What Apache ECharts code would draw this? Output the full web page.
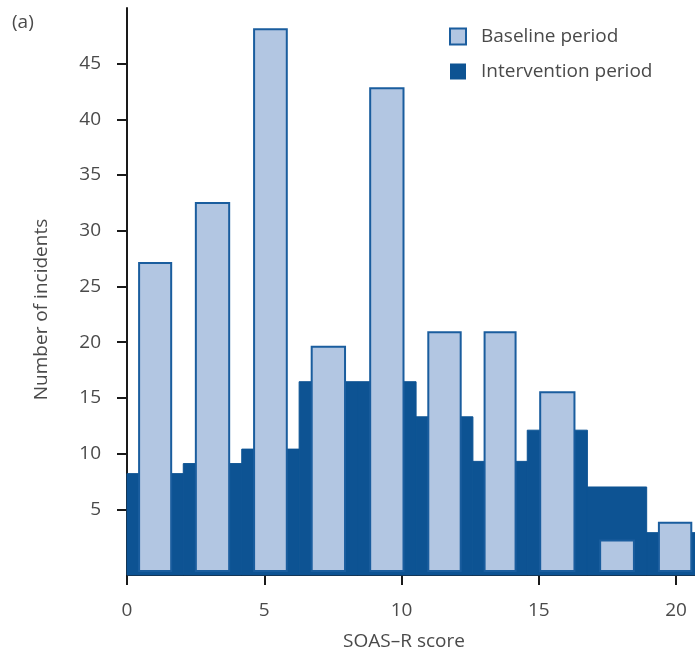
<!DOCTYPE html>
<html>
<head>
<meta charset="utf-8">
<script src="https://cdn.jsdelivr.net/npm/echarts@6/dist/echarts.min.js"></script>
<style>
html,body{margin:0;padding:0;background:#fff;}
#chart{width:695px;height:653px;}
</style>
</head>
<body>
<div id="chart"></div>
<script>
// SOAS-R score bins (edges in score units, as drawn)
const binStart = [0, 2.05, 4.18, 6.27, 8.4, 10.53, 12.6, 14.58, 16.77, 18.93];
const binEnd   = [2.05, 4.18, 6.27, 8.4, 10.53, 12.6, 14.58, 16.77, 18.93, 21.0];
const baselineValues     = [27.1, 32.5, 48.1, 19.6, 42.8, 20.9, 20.9, 15.5, 2.2, 3.8];
const interventionValues = [8.2, 9.1, 10.4, 16.45, 16.45, 13.3, 9.3, 12.1, 7.0, 2.9];
const yTickValues = [5, 10, 15, 20, 25, 30, 35, 40, 45];
const xTickValues = [0, 5, 10, 15, 20];
const seriesNames = ['Baseline period', 'Intervention period'];

const DARK = '#0d5393';
const LIGHT = '#b2c6e2';
const EDGE = '#1a5d9e';
const TEXT = '#4a4a4a';
const FONT = '"Open Sans", sans-serif';
const Y_MIN = -0.9, Y_MAX = 50, X_MIN = 0, X_MAX = 20.69;

const chart = echarts.init(document.getElementById('chart'));

function clipRect(r, params) {
  const cs = params.coordSys;
  return echarts.graphic.clipRectByRect(r, {x: cs.x, y: cs.y, width: cs.width, height: cs.height});
}

const intervData = binStart.map((s, i) => [s, binEnd[i], interventionValues[i]]);
const baseData = binStart.map((s, i) => [s, binEnd[i], baselineValues[i]]);

chart.setOption({
  animation: false,
  textStyle: {fontFamily: FONT},
  grid: {left: 127, right: 0, top: 8, bottom: 78, containLabel: false, outerBoundsMode: 'none'},
  legend: {
    orient: 'vertical',
    left: 449,
    top: 27,
    padding: 0,
    itemWidth: 16,
    itemHeight: 16,
    itemGap: 16,
    textStyle: {fontSize: 19, color: TEXT, fontFamily: FONT, padding: [0, 0, 0, 10], lineHeight: 16},
    data: [
      {name: seriesNames[0], icon: 'rect', itemStyle: {color: LIGHT, borderColor: EDGE, borderWidth: 2}},
      {name: seriesNames[1], icon: 'rect', itemStyle: {color: DARK, borderWidth: 0}}
    ]
  },
  xAxis: {
    type: 'value',
    min: X_MIN,
    max: X_MAX,
    name: 'SOAS–R score',
    nameLocation: 'middle',
    nameGap: 57,
    nameTextStyle: {fontSize: 19, color: TEXT, fontFamily: FONT, padding: [0, 14, 0, 0]},
    axisLine: {onZero: false, lineStyle: {color: '#1a1a1a', width: 2}},
    axisTick: {show: true, length: 10, lineStyle: {color: '#1a1a1a', width: 2}, customValues: xTickValues},
    axisLabel: {fontSize: 19, color: TEXT, fontFamily: FONT, margin: 26, customValues: xTickValues},
    splitLine: {show: false}
  },
  yAxis: {
    type: 'value',
    min: Y_MIN,
    max: Y_MAX,
    name: 'Number of incidents',
    nameLocation: 'middle',
    nameGap: 76,
    nameTextStyle: {fontSize: 19, color: TEXT, fontFamily: FONT, padding: [0, 36, 0, 0]},
    axisLine: {onZero: false, lineStyle: {color: '#1a1a1a', width: 2}},
    axisTick: {show: true, length: 10, lineStyle: {color: '#1a1a1a', width: 2}, customValues: yTickValues},
    axisLabel: {fontSize: 19, color: TEXT, fontFamily: FONT, margin: 26, customValues: yTickValues},
    splitLine: {show: false}
  },
  series: [
    {
      name: seriesNames[1],
      type: 'custom',
      z: 1,
      itemStyle: {color: DARK},
      encode: {x: [0, 1], y: 2},
      data: intervData,
      renderItem: function (params, api) {
        const p0 = api.coord([api.value(0), api.value(2)]);
        const p1 = api.coord([api.value(1), Y_MIN]);
        const r = clipRect({x: p0[0], y: p0[1], width: p1[0] - p0[0], height: p1[1] - p0[1]}, params);
        if (!r) return null;
        return {type: 'rect', shape: r, style: {fill: DARK, stroke: DARK, lineWidth: 1}};
      }
    },
    {
      name: seriesNames[0],
      type: 'custom',
      z: 2,
      itemStyle: {color: LIGHT, borderColor: EDGE, borderWidth: 2},
      encode: {x: [0, 1], y: 2},
      data: baseData,
      renderItem: function (params, api) {
        const s = api.value(0), e = api.value(1);
        const c = (s + e) / 2, half = (e - s) * 0.285;
        const p0 = api.coord([c - half, api.value(2)]);
        const p1 = api.coord([c + half, -0.55]);
        const r = clipRect({x: p0[0], y: p0[1], width: p1[0] - p0[0], height: p1[1] - p0[1]}, params);
        if (!r) return null;
        return {type: 'rect', shape: r, style: {fill: LIGHT, stroke: EDGE, lineWidth: 2}};
      }
    }
  ],
  graphic: [
    {type: 'text', left: 12, top: 13, style: {text: '(a)', fontSize: 19, fill: TEXT, fontFamily: FONT}}
  ]
});
</script>
</body>
</html>
